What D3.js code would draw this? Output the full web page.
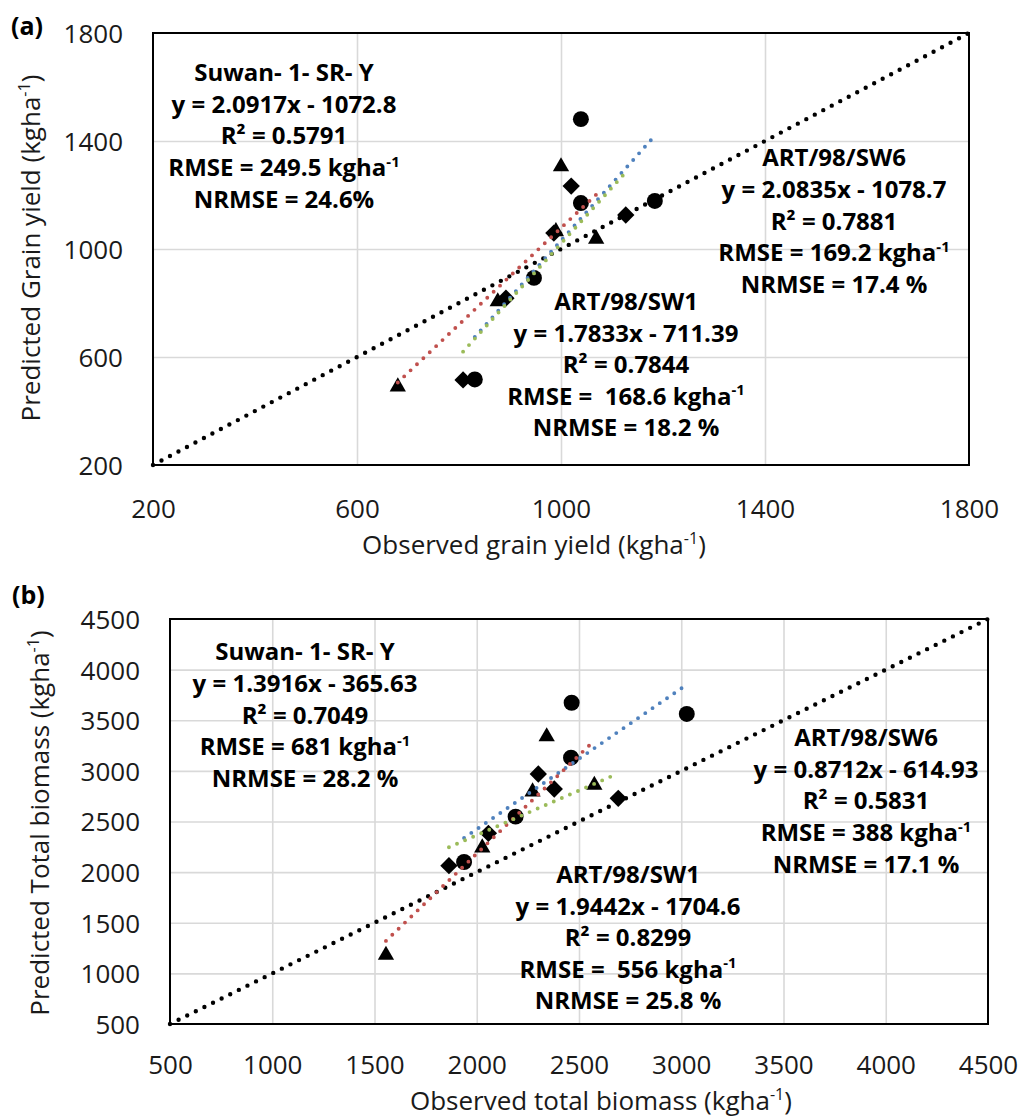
<!DOCTYPE html>
<html>
<head>
<meta charset="utf-8">
<script src="https://cdn.jsdelivr.net/npm/d3@7"></script>
<style>
  html, body { margin: 0; padding: 0; background: #fff; }
  svg { display: block; font-family: "Open Sans", sans-serif; }
  text { white-space: pre; }
</style>
</head>
<body>
<svg id="chart" width="1018" height="1118"></svg>
<script>
// ---- data ----
const seriesNames = ["Suwan- 1- SR- Y", "ART/98/SW1", "ART/98/SW6"];

// (a) grain yield, kg/ha
const grainObsSuwan = [831, 947, 1039, 1039, 1184];
const grainPredSuwan = [517, 893, 1481, 1170, 1178];
const grainObsSW1 = [680, 876, 990, 1000, 1069];
const grainPredSW1 = [490, 805, 1065, 1305, 1037];
const grainObsSW6 = [808, 892, 986, 1020, 1127];
const grainPredSW6 = [515, 818, 1059, 1233, 1126];
const grainTicks = [200, 600, 1000, 1400, 1800];

// (b) total biomass, kg/ha
const bioObsSuwan = [1938, 2190, 2461, 2464, 3027];
const bioPredSuwan = [2100, 2548, 3130, 3673, 3562];
const bioObsSW1 = [1556, 2027, 2273, 2342, 2575];
const bioPredSW1 = [1181, 2241, 2794, 3338, 2860];
const bioObsSW6 = [1864, 2057, 2301, 2379, 2692];
const bioPredSW6 = [2064, 2383, 2969, 2821, 2729];
const bioTicks = [500, 1000, 1500, 2000, 2500, 3000, 3500, 4000, 4500];

// statistics text ("^" toggles superscript)
const grainStatsSuwan = ["Suwan- 1- SR- Y", "y = 2.0917x - 1072.8", "R² = 0.5791", "RMSE = 249.5 kgha^-1", "NRMSE = 24.6%"];
const grainStatsSW6 = ["ART/98/SW6", "y = 2.0835x - 1078.7", "R² = 0.7881", "RMSE = 169.2 kgha^-1", "NRMSE = 17.4 %"];
const grainStatsSW1 = ["ART/98/SW1", "y = 1.7833x - 711.39", "R² = 0.7844", "RMSE =  168.6 kgha^-1", "NRMSE = 18.2 %"];
const bioStatsSuwan = ["Suwan- 1- SR- Y", "y = 1.3916x - 365.63", "R² = 0.7049", "RMSE = 681 kgha^-1", "NRMSE = 28.2 %"];
const bioStatsSW6 = ["ART/98/SW6", "y = 0.8712x - 614.93", "R² = 0.5831", "RMSE = 388 kgha^-1", "NRMSE = 17.1 %"];
const bioStatsSW1 = ["ART/98/SW1", "y = 1.9442x - 1704.6", "R² = 0.8299", "RMSE =  556 kgha^-1", "NRMSE = 25.8 %"];

// ---- drawing ----
const svg = d3.select("#chart");

// per series: marker and trendline colour (Suwan, SW1, SW6)
const markerType = [d3.symbolCircle, d3.symbolTriangle, d3.symbolSquare];
const markerSize = [200, 115, 150];
const markerRotate = [0, 0, 45];
const trendColor = ["#4f81bd", "#c0504d", "#9bbb59"];

function richText(sel, str, fs) {
  let cur = 0;
  str.split("^").forEach((p, i) => {
    if (!p) return;
    const target = i % 2;
    const t = sel.append("tspan").text(p);
    if (target) t.attr("font-size", fs * 0.62);
    if (target !== cur) t.attr("dy", (cur - target) * fs * 0.4);
    cur = target;
  });
}

function fit(xs, ys) {
  const mx = d3.mean(xs), my = d3.mean(ys);
  const sxy = d3.sum(xs, (v, i) => (v - mx) * (ys[i] - my));
  const sxx = d3.sum(xs, v => (v - mx) * (v - mx));
  const b = sxy / sxx;
  return { b: b, a: my - b * mx };
}

function drawPanel(p) {
  const x = d3.scaleLinear().domain(p.domain).range([p.left, p.right]);
  const y = d3.scaleLinear().domain(p.domain).range([p.bottom, p.top]);
  const g = svg.append("g");
  const inner = p.ticks.slice(1, -1);
  const fmt = d3.format("d");

  // gridlines
  g.append("g")
    .attr("transform", `translate(0,${p.bottom})`)
    .call(d3.axisBottom(x).tickValues(inner).tickSize(-(p.bottom - p.top)).tickFormat(""))
    .call(s => s.select(".domain").remove())
    .selectAll("line").attr("stroke", "#d9d9d9").attr("stroke-width", 1.6);
  g.append("g")
    .attr("transform", `translate(${p.left},0)`)
    .call(d3.axisLeft(y).tickValues(inner).tickSize(-(p.right - p.left)).tickFormat(""))
    .call(s => s.select(".domain").remove())
    .selectAll("line").attr("stroke", "#d9d9d9").attr("stroke-width", 1.6);

  // tick labels
  const xa = g.append("g")
    .attr("transform", `translate(0,${p.bottom})`)
    .call(d3.axisBottom(x).tickValues(p.ticks).tickSize(0).tickFormat(fmt));
  xa.select(".domain").remove();
  xa.selectAll("text")
    .attr("dy", null).attr("y", p.xLabelBase)
    .attr("font-family", "Open Sans").attr("font-size", 26).attr("fill", "#1a1a1a");

  const ya = g.append("g")
    .attr("transform", `translate(${p.left},0)`)
    .call(d3.axisLeft(y).tickValues(p.ticks).tickSize(0).tickPadding(30).tickFormat(fmt));
  ya.select(".domain").remove();
  ya.selectAll("text")
    .attr("dy", "0.36em")
    .attr("font-family", "Open Sans").attr("font-size", 26).attr("fill", "#1a1a1a");

  // 1:1 line
  g.append("line")
    .attr("x1", x(p.domain[0])).attr("y1", y(p.domain[0]))
    .attr("x2", x(p.domain[1])).attr("y2", y(p.domain[1]))
    .attr("stroke", "#000").attr("stroke-width", 4.4)
    .attr("stroke-linecap", "round").attr("stroke-dasharray", "0 9.6");

  // markers
  p.series.forEach((s, k) => {
    g.append("g").selectAll("path")
      .data(s.obs.map((v, i) => [v, s.pred[i]]))
      .join("path")
      .attr("d", d3.symbol(markerType[k], markerSize[k]))
      .attr("transform", d => `translate(${x(d[0])},${y(d[1])}) rotate(${markerRotate[k]})`)
      .attr("fill", "#000");
  });

  // linear trendlines
  p.series.forEach((s, k) => {
    const f = fit(s.obs, s.pred);
    const ext = d3.extent(s.obs);
    g.append("path")
      .datum(ext.map(v => [v, f.a + f.b * v]))
      .attr("d", d3.line().x(d => x(d[0])).y(d => y(d[1])))
      .attr("fill", "none")
      .attr("stroke", trendColor[k]).attr("stroke-width", 3.9)
      .attr("stroke-linecap", "round").attr("stroke-dasharray", "0 8.8");
  });

  // plot frame
  g.append("rect")
    .attr("x", p.left).attr("y", p.top)
    .attr("width", p.right - p.left).attr("height", p.bottom - p.top)
    .attr("fill", "none").attr("stroke", "#000").attr("stroke-width", 2);

  // stats blocks
  p.stats.forEach(b => {
    b.lines.forEach((line, i) => {
      const t = g.append("text")
        .attr("x", b.cx).attr("y", b.y0 + i * b.step)
        .attr("text-anchor", "middle")
        .attr("font-size", 24).attr("font-weight", 700).attr("fill", "#000");
      richText(t, line, 24);
    });
  });

  // axis titles
  const xt = g.append("text")
    .attr("x", p.xTitle[0]).attr("y", p.xTitle[1])
    .attr("text-anchor", "middle").attr("font-size", 26).attr("fill", "#1a1a1a");
  richText(xt, p.xTitleText, 26);
  const yt = g.append("text")
    .attr("transform", `translate(${p.yTitle[0]},${p.yTitle[1]}) rotate(-90)`)
    .attr("text-anchor", "middle").attr("font-size", 26).attr("fill", "#1a1a1a");
  richText(yt, p.yTitleText, 26);

  // panel tag
  g.append("text")
    .attr("x", p.tag[0]).attr("y", p.tag[1])
    .attr("font-size", 25).attr("font-weight", 700).attr("fill", "#000")
    .text(p.tagText);
}

drawPanel({
  domain: [200, 1800], ticks: grainTicks,
  left: 153, right: 969, top: 33, bottom: 465, xLabelBase: 53,
  series: [
    { obs: grainObsSuwan, pred: grainPredSuwan },
    { obs: grainObsSW1, pred: grainPredSW1 },
    { obs: grainObsSW6, pred: grainPredSW6 }
  ],
  stats: [
    { lines: grainStatsSuwan, cx: 284, y0: 81, step: 31.7 },
    { lines: grainStatsSW6, cx: 834, y0: 166, step: 31.8 },
    { lines: grainStatsSW1, cx: 626, y0: 310, step: 31.6 }
  ],
  xTitleText: "Observed grain yield (kgha^-1^)", xTitle: [534, 554],
  yTitleText: "Predicted Grain yield (kgha^-1^)", yTitle: [40, 248],
  tagText: "(a)", tag: [11, 35]
});

drawPanel({
  domain: [500, 4500], ticks: bioTicks,
  left: 170, right: 988, top: 619, bottom: 1024, xLabelBase: 50,
  series: [
    { obs: bioObsSuwan, pred: bioPredSuwan },
    { obs: bioObsSW1, pred: bioPredSW1 },
    { obs: bioObsSW6, pred: bioPredSW6 }
  ],
  stats: [
    { lines: bioStatsSuwan, cx: 305, y0: 660, step: 31.8 },
    { lines: bioStatsSW6, cx: 866, y0: 746, step: 31.7 },
    { lines: bioStatsSW1, cx: 628, y0: 883, step: 31.6 }
  ],
  xTitleText: "Observed total biomass (kgha^-1^)", xTitle: [601, 1110],
  yTitleText: "Predicted Total biomass (kgha^-1^)", yTitle: [49, 823],
  tagText: "(b)", tag: [12, 604]
});
</script>
</body>
</html>
